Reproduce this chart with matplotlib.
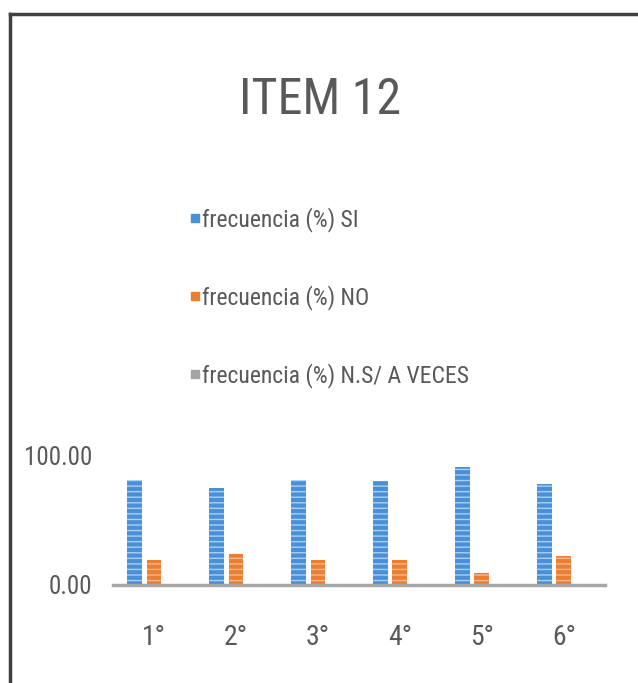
import matplotlib

matplotlib.use("Agg")
import matplotlib.pyplot as plt  # noqa: E402
import numpy as np  # noqa: E402
from matplotlib.lines import Line2D  # noqa: E402

plt.rcParams["font.family"] = ["Roboto Condensed", "DejaVu Sans"]

grades = ["1°", "2°", "3°", "4°", "5°", "6°"]
freq_si = [81, 75, 81, 80, 91, 78]
freq_no = [19, 24, 19, 19, 9, 22]
freq_ns = [0, 0, 0, 0, 0, 0]
series = ["frecuencia (%) SI", "frecuencia (%) NO", "frecuencia (%) N.S/ A VECES"]

colors = ["#4a90d9", "#ed7d31", "#a5a5a5"]
stripes = ["#a9d0f5", "#f8b98c", "#d8d8d8"]
text_c = "#595959"

fig = plt.figure(figsize=(6.38, 6.83), dpi=100)
ax = fig.add_axes([0.177, 0.1435, 0.771, 0.19])

x = np.arange(len(grades))
w, off = 0.18, 0.24
for i, vals in enumerate([freq_si, freq_no, freq_ns]):
    ax.bar(x + (i - 1) * off, vals, w, color=colors[i], edgecolor=stripes[i],
           hatch="---", lw=0, label=series[i])

ax.set_xlim(-0.5, len(grades) - 0.5)
ax.set_ylim(0, 100)
ax.set_yticks([0, 100])
ax.set_yticklabels(["0.00", "100.00"])
ax.set_xticks(x)
ax.set_xticklabels(grades)
ax.tick_params(axis="y", length=0, labelsize=18, colors=text_c, pad=15)
ax.tick_params(axis="x", length=0, labelsize=20, colors=text_c, pad=28)
for s in ["top", "right", "left"]:
    ax.spines[s].set_visible(False)
ax.spines["bottom"].set_color("#a6a6a6")
ax.spines["bottom"].set_linewidth(2.5)

fig.text(0.502, 0.853, "ITEM 12", ha="center", va="center", fontsize=36, color=text_c)

handles = [Line2D([], [], marker="s", ls="", ms=6, color=c) for c in colors]
fig.legend(handles, series, loc="upper left", bbox_to_anchor=(0.284, 0.711),
           frameon=False, fontsize=17, labelcolor=text_c, labelspacing=2.25,
           handlelength=0.4, handletextpad=0.1, borderaxespad=0)

# outer frame (top and left edges only visible)
fig.add_artist(Line2D([0.016, 1.0], [0.98, 0.98], color="#404040", lw=2.5,
                      transform=fig.transFigure))
fig.add_artist(Line2D([0.016, 0.016], [0.0, 0.98], color="#404040", lw=2.5,
                      transform=fig.transFigure))

fig.savefig("out.png", dpi=100)
